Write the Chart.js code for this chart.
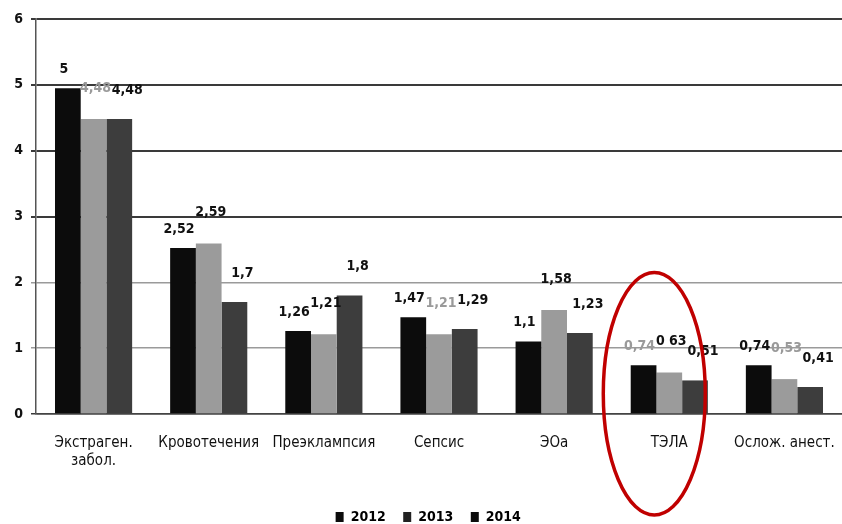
<!DOCTYPE html>
<html>
<head>
<meta charset="utf-8">
<script src="https://cdn.jsdelivr.net/npm/chart.js@4/dist/chart.umd.min.js"></script>
<style>
  html, body { margin: 0; padding: 0; background: #fff; }
  #wrap { width: 842px; height: 524px; }
</style>
</head>
<body>
<div id="wrap"><canvas id="chart" width="842" height="524"></canvas></div>
<script>
var categories = [['Экстраген.', 'забол.'], 'Кровотечения', 'Преэклампсия', 'Сепсис', 'ЭОа', 'ТЭЛА', 'Ослож. анест.']
var years = ['2012', '2013', '2014']
var values2012 = [4.95, 2.52, 1.26, 1.47, 1.1, 0.74, 0.74]
var values2013 = [4.48, 2.59, 1.21, 1.21, 1.58, 0.63, 0.53]
var values2014 = [4.48, 1.7, 1.8, 1.29, 1.23, 0.51, 0.41]
var labels2012 = ['5', '2,52', '1,26', '1,47', '1,1', '0,74', '0,74']
var labels2013 = ['4,48', '2,59', '1,21', '1,21', '1,58', '0 63', '0,53']
var labels2014 = ['4,48', '1,7', '1,8', '1,29', '1,23', '0,51', '0,41']
var yTicks = [0, 1, 2, 3, 4, 5, 6]
var highlighted = 'ТЭЛА'

var font = '"DejaVu Sans Condensed", "DejaVu Sans", sans-serif'

// faded (scanned) labels in the picture
var faded = { '1-0': true, '1-3': true, '0-5': true, '1-6': true }
// label nudges per series, the data labels sit a bit off the bars in the scan
var nudge = [{ dx: -4, dy: 12 }, { dx: 2, dy: 24 }, { dx: 8, dy: 22 }]

var barLabels = {
    id: 'barLabels',
    afterDatasetsDraw: function (chart) {
        var ctx = chart.ctx
        var all = [labels2012, labels2013, labels2014]
        ctx.save()
        ctx.font = 'bold 14px ' + font
        ctx.textAlign = 'center'
        ctx.textBaseline = 'bottom'
        chart.data.datasets.forEach(function (ds, i) {
            chart.getDatasetMeta(i).data.forEach(function (bar, j) {
                ctx.fillStyle = faded[i + '-' + j] ? '#9a9a9a' : '#111'
                ctx.fillText(all[i][j], bar.x + nudge[i].dx, bar.y - nudge[i].dy)
            })
        })
        ctx.restore()
    }
}

var ellipse = {
    id: 'ellipse',
    afterDraw: function (chart) {
        var x = chart.scales.x, y = chart.scales.y
        var idx = categories.indexOf(highlighted)
        var cx = x.getPixelForValue(idx) - 15
        var top = y.getPixelForValue(2.15)
        var bottom = chart.height - 9
        var ctx = chart.ctx
        ctx.save()
        ctx.strokeStyle = '#c00000'
        ctx.lineWidth = 3.5
        ctx.beginPath()
        ctx.ellipse(cx, (top + bottom) / 2, 51, (bottom - top) / 2, 0, 0, Math.PI * 2)
        ctx.stroke()
        ctx.restore()
    }
}

// legend sits a little lower and to the right in the scan
var legendShift = {
    id: 'legendShift',
    afterLayout: function (chart) {
        var lg = chart.legend
        lg.top += 10
        lg.bottom += 10
        lg.left += 16
        lg.right += 16
    }
}

new Chart(document.getElementById('chart'), {
    type: 'bar',
    data: {
        labels: categories,
        datasets: [
            { label: years[0], data: values2012, backgroundColor: '#0c0c0c' },
            { label: years[1], data: values2013, backgroundColor: '#9b9b9b' },
            { label: years[2], data: values2014, backgroundColor: '#3d3d3d' }
        ]
    },
    options: {
        responsive: false,
        animation: false,
        layout: { padding: { top: 19, right: 0, left: 0, bottom: 0 } },
        datasets: { bar: { categoryPercentage: 0.67, barPercentage: 1.0 } },
        plugins: {
            tooltip: { enabled: false },
            legend: {
                position: 'bottom',
                labels: {
                    color: '#111',
                    boxWidth: 8,
                    boxHeight: 10,
                    padding: 0,
                    font: { family: font, size: 14, weight: 'bold' },
                    generateLabels: function (chart) {
                        return chart.data.datasets.map(function (ds, i) {
                            return {
                                text: ds.label + '    ',
                                fillStyle: i == 1 ? '#222' : '#0c0c0c',
                                strokeStyle: 'transparent',
                                lineWidth: 0,
                                datasetIndex: i
                            }
                        })
                    }
                }
            }
        },
        scales: {
            x: {
                grid: { display: false },
                border: { display: true, color: '#444', width: 1.5 },
                afterFit: function (scale) {
                    scale.height = 86
                    scale.paddingLeft = 0
                    scale.paddingRight = 0
                },
                ticks: {
                    color: '#111',
                    padding: 12,
                    font: { family: font, size: 15 }
                }
            },
            y: {
                min: 0,
                max: 6,
                afterFit: function (scale) { scale.width = 36 },
                afterBuildTicks: function (scale) {
                    scale.ticks = yTicks.map(function (v) { return { value: v } })
                },
                grid: {
                    color: function (c) { return c.tick && c.tick.value <= 2 && c.tick.value > 0 ? '#9a9a9a' : '#3a3a3a' },
                    lineWidth: function (c) { return c.tick && c.tick.value <= 2 ? 1.5 : 2 },
                    tickLength: 5
                },
                border: { display: true, color: '#555', width: 1.5 },
                ticks: {
                    color: '#111',
                    padding: 8,
                    font: { family: font, size: 14, weight: 'bold' }
                }
            }
        }
    },
    plugins: [barLabels, ellipse, legendShift]
})
</script>
</body>
</html>
